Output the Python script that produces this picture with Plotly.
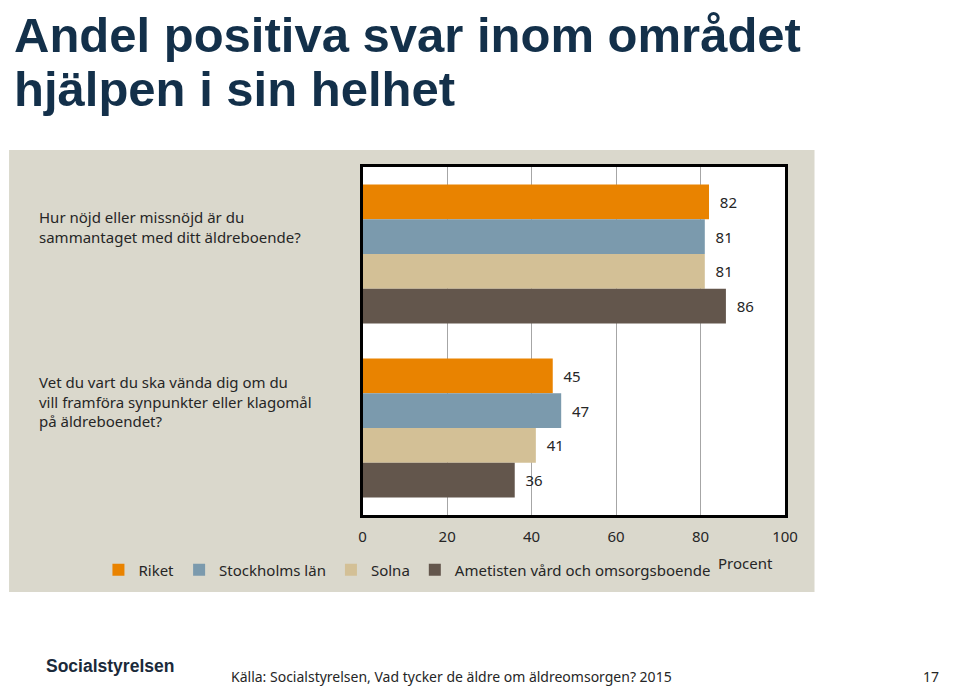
import plotly.graph_objects as go

# figure is placed by the page with an 8px offset (default body margin)
OFF = 8
W, H = 959, 688

categories = [
    "Hur nöjd eller missnöjd är du<br>sammantaget med ditt äldreboende?",
    "Vet du vart du ska vända dig om du<br>vill framföra synpunkter eller klagomål<br>på äldreboendet?",
]
series_names = ["Riket", "Stockholms län", "Solna", "Ametisten vård och omsorgsboende"]
riket = [82, 45]
stockholm = [81, 47]
solna = [81, 41]
ametisten = [86, 36]
series_values = [riket, stockholm, solna, ametisten]
colors = ["#E98300", "#7B9AAD", "#D3C096", "#63564C"]
x_ticks = [0, 20, 40, 60, 80, 100]

title_lines = ["Andel positiva svar inom området", "hjälpen i sin helhet"]
source_text = "Källa: Socialstyrelsen, Vad tycker de äldre om äldreomsorgen? 2015"
page_no = "17"
axis_title = "Procent"
org_name = "Socialstyrelsen"

FONT = "Noto Sans"
TXT = "#262626"


def px(x):
    return (x - OFF) / W


def py(y):
    return 1 - (y - OFF) / H


fig = go.Figure()
for name, vals, col in zip(series_names, series_values, colors):
    fig.add_trace(go.Bar(
        y=categories, x=vals, name=name, orientation="h",
        marker=dict(color=col, line=dict(width=0)),
        text=["\u00a0\u00a0" + str(v) for v in vals], textposition="outside",
        textfont=dict(family=FONT, size=15, color=TXT),
        cliponaxis=False,
    ))

shapes = [
    dict(type="rect", xref="paper", yref="paper", x0=px(5), x1=px(825), y0=py(592), y1=py(150),
         fillcolor="#DAD8CC", line=dict(width=0), layer="below"),
    dict(type="rect", xref="x domain", yref="y domain", x0=0, x1=1, y0=0, y1=1,
         fillcolor="white", line=dict(width=0), layer="below"),
]

annotations = []
for cat in categories:
    annotations.append(dict(
        xref="paper", yref="y", x=px(33), y=cat, yshift=27, xanchor="left", yanchor="middle",
        text=cat, showarrow=False, align="left",
        font=dict(family=FONT, size=15, color=TXT),
    ))
for line, yc in zip(title_lines, [35, 89]):
    annotations.append(dict(
        xref="paper", yref="paper", x=px(8), y=py(yc), xanchor="left", yanchor="middle",
        text="<b>" + line + "</b>", showarrow=False, align="left",
        font=dict(family="Liberation Sans", size=49, color="#13304A"),
    ))
annotations += [
    dict(xref="paper", yref="paper", x=px(755), y=py(563), xanchor="center", yanchor="middle",
         text=axis_title, showarrow=False, font=dict(family=FONT, size=15, color=TXT)),
    dict(xref="paper", yref="paper", x=px(41), y=py(666), xanchor="left", yanchor="middle",
         text="<b>" + org_name + "</b>", showarrow=False,
         font=dict(family="Liberation Sans", size=17.5, color="#1B2A3A")),
    dict(xref="paper", yref="paper", x=px(229), y=py(676), xanchor="left", yanchor="middle",
         text=source_text, showarrow=False, font=dict(family=FONT, size=14, color=TXT)),
    dict(xref="paper", yref="paper", x=px(954), y=py(676), xanchor="right", yanchor="middle",
         text=page_no, showarrow=False, font=dict(family=FONT, size=14, color=TXT)),
]

fig.update_layout(
    width=W, height=H, autosize=False,
    margin=dict(l=0, r=0, t=0, b=0),
    paper_bgcolor="white", plot_bgcolor="white",
    barmode="group", bargap=0.2, bargroupgap=0,
    font=dict(family=FONT, size=15, color=TXT),
    shapes=shapes, annotations=annotations,
    showlegend=True,
    legend=dict(orientation="h", x=px(96), y=py(570), xanchor="left", yanchor="middle",
                bgcolor="rgba(0,0,0,0)", font=dict(family=FONT, size=15, color=TXT),
                traceorder="normal", itemwidth=30),
    xaxis=dict(domain=[px(365), px(795)], range=[0, 100], tickvals=x_ticks,
               showgrid=True, gridcolor="#A6A6A6", gridwidth=1, zeroline=False,
               showline=True, linecolor="black", linewidth=3, mirror=True,
               ticks="", ticklabelstandoff=6,
               tickfont=dict(family=FONT, size=15, color=TXT)),
    yaxis=dict(domain=[py(515), py(167)], autorange="reversed", showticklabels=False,
               showgrid=False, showline=True, linecolor="black", linewidth=3, mirror=True,
               ticks=""),
)

fig.write_html("out.html", config={"displayModeBar": False})
